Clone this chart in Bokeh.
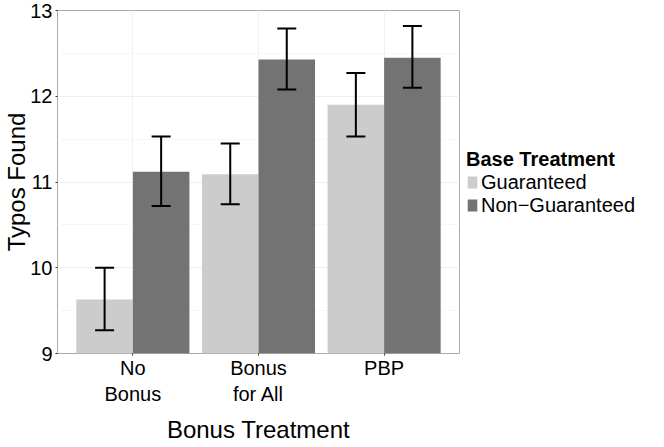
from bokeh.plotting import figure
from bokeh.models import (ColumnDataSource, FactorRange, Range1d, Whisker, TeeHead,
                          Legend, LegendItem, SingleIntervalTicker)
from bokeh.transform import dodge
from bokeh.embed import file_html
from bokeh.resources import INLINE

categories = ["No Bonus", "Bonus for All", "PBP"]
# two-line tick labels: (second line, first line)
tick_lines = [("Bonus", "No"), ("for All", "Bonus"), ("", "PBP")]
series = ["Guaranteed", "Non\u2212Guaranteed"]
guaranteed = [9.63, 11.09, 11.90]
guaranteed_lo = [9.27, 10.74, 11.53]
guaranteed_hi = [10.00, 11.45, 12.27]
nonguaranteed = [11.12, 12.43, 12.45]
nonguaranteed_lo = [10.72, 12.08, 12.10]
nonguaranteed_hi = [11.53, 12.79, 12.82]
colors = ["#CCCCCC", "#737373"]

FONT = "Liberation Sans"

x_range = FactorRange(factors=tick_lines, range_padding=0.1, range_padding_units="absolute",
                      group_padding=0, factor_padding=0)
p = figure(x_range=x_range, y_range=Range1d(9, 13),
           frame_width=402, frame_height=343, output_backend="svg", toolbar_location=None,
           min_border_left=40, min_border_right=10, min_border_top=10,
           min_border_bottom=80)

p.background_fill_color = "white"
p.border_fill_color = "white"
p.outline_line_color = "#ABABAB"
p.outline_line_width = 1

src_g = ColumnDataSource(dict(cat=tick_lines, top=guaranteed, lo=guaranteed_lo, hi=guaranteed_hi))
src_n = ColumnDataSource(dict(cat=tick_lines, top=nonguaranteed, lo=nonguaranteed_lo, hi=nonguaranteed_hi))

rg = p.vbar(x=dodge("cat", -0.225, range=p.x_range), top="top", bottom=9, width=0.45,
            source=src_g, fill_color=colors[0], line_color=None)
rn = p.vbar(x=dodge("cat", 0.225, range=p.x_range), top="top", bottom=9, width=0.45,
            source=src_n, fill_color=colors[1], line_color=None)

for src, off in ((src_g, -0.225), (src_n, 0.225)):
    w = Whisker(base=dodge("cat", off, range=p.x_range), upper="hi", lower="lo", source=src,
                level="annotation", line_color="black", line_width=2,
                upper_head=TeeHead(size=19, line_color="black", line_width=2),
                lower_head=TeeHead(size=19, line_color="black", line_width=2))
    p.add_layout(w)

# grids
p.xgrid.grid_line_color = "#F2F2F2"
p.xgrid.grid_line_width = 1
p.ygrid.grid_line_color = "#EFEFEF"
p.ygrid.minor_grid_line_color = "#F7F7F7"
p.yaxis.ticker = SingleIntervalTicker(interval=1, num_minor_ticks=2)

for ax in (p.xaxis[0], p.yaxis[0]):
    ax.axis_line_color = None
    ax.major_tick_line_color = "#333333"
    ax.major_tick_in = 0
    ax.major_tick_out = 2
    ax.minor_tick_line_color = None
    ax.major_label_text_font = FONT
    ax.major_label_text_font_size = "20px"
    ax.major_label_text_color = "black"
    ax.axis_label_text_font = FONT
    ax.axis_label_text_font_size = "24px"
    ax.axis_label_text_font_style = "normal"
    ax.axis_label_text_color = "black"

xa = p.xaxis[0]
xa.group_text_font = FONT
xa.group_text_font_size = "20px"
xa.group_text_font_style = "normal"
xa.group_text_color = "black"
xa.group_label_orientation = "horizontal"
xa.separator_line_color = None
xa.major_label_standoff = 1
xa.axis_label_standoff = 8
xa.axis_label = "Bonus Treatment"

ya = p.yaxis[0]
ya.axis_label = "Typos Found"
ya.major_label_standoff = 1
ya.axis_label_standoff = -3

legend = Legend(items=[LegendItem(label=series[0], renderers=[rg]),
                       LegendItem(label=series[1], renderers=[rn])],
                location="center_left", title="Base Treatment",
                title_text_font=FONT, title_text_font_size="20px",
                title_text_font_style="bold", title_standoff=0,
                title_text_color="black",
                label_text_font=FONT, label_text_font_size="20px",
                label_text_color="black",
                glyph_width=12, glyph_height=15, label_height=15, label_standoff=3,
                spacing=0, padding=10, margin=7, border_line_color=None,
                background_fill_alpha=0)
p.add_layout(legend, "right")

open("out.html", "w").write(file_html(p, INLINE))
